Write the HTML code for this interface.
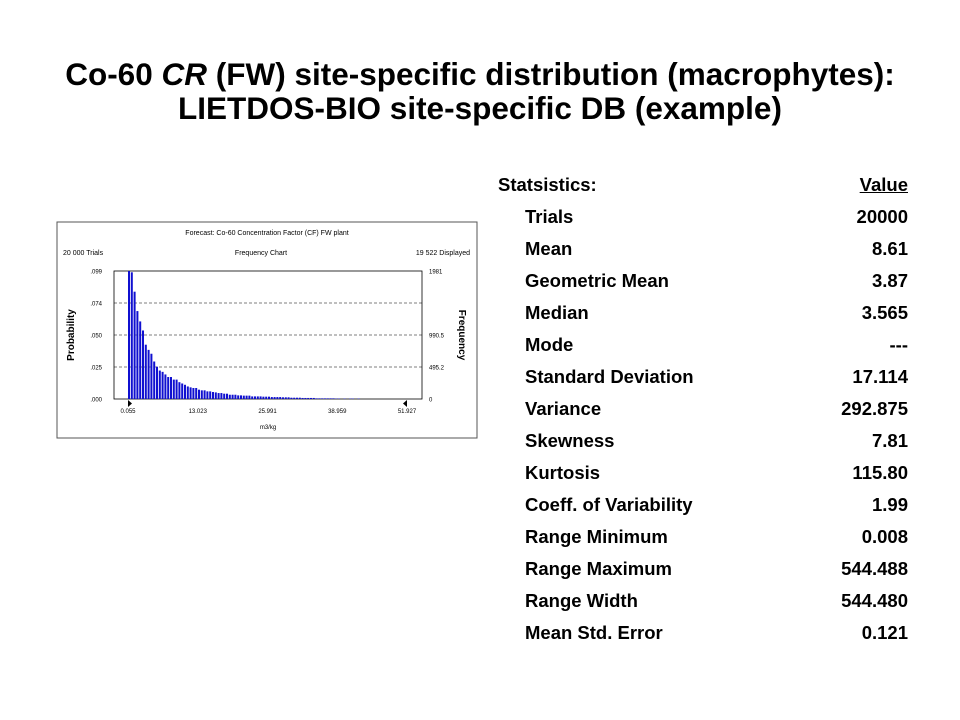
<!DOCTYPE html>
<html><head><meta charset="utf-8"><style>
body{margin:0;background:#fff;width:960px;height:720px;overflow:hidden;position:relative;font-family:"Liberation Sans",Arial,sans-serif}
.title{position:absolute;left:0;width:960px;top:57px;text-align:center;font-weight:bold;font-size:31.5px;line-height:34px;color:#000;white-space:nowrap}
.row{position:absolute;left:498px;width:410px;height:22px;font-weight:bold;font-size:18.5px;color:#000}
.row .l{position:absolute;left:27px;top:0}
.row .v{position:absolute;right:0;top:0}
</style></head><body>
<div class="title">Co-60 <i>CR</i> (FW) site-specific distribution (macrophytes):<br>LIETDOS-BIO site-specific DB (example)</div>
<div id="stats"></div>
<svg id="chart" style="position:absolute;left:0;top:0" width="960" height="720"></svg>
<script>
const statLabels=["Trials","Mean","Geometric Mean","Median","Mode","Standard Deviation","Variance","Skewness","Kurtosis","Coeff. of Variability","Range Minimum","Range Maximum","Range Width","Mean Std. Error"];
const statValues=["20000","8.61","3.87","3.565","---","17.114","292.875","7.81","115.80","1.99","0.008","544.488","544.480","0.121"];
const probs=[.099,.098,.083,.068,.060,.053,.042,.038,.035,.029,.025,.022,.021,.019,.017,.017,.015,.015,.013,.012,.011,.0097,.0090,.0085,.0085,.0072,.0067,.0067,.0059,.0059,.0054,.0051,.0046,.0046,.0041,.0041,.0033,.0033,.0033,.0028,.0028,.0026,.0026,.0026,.0020,.0020,.0020,.0020,.0018,.0018,.0018,.0015,.0015,.0015,.0015,.0013,.0013,.0013,.0010,.0010,.0010,.0010,.0008,.0008,.0008,.0008,.0008,.0005,.0005,.0005,.0005,.0005,.0005,.0005,.0003,.0003,0,.0003,0,.0003,.0003,0,.0003];
const yTicks=[".000",".025",".050",".074",".099"];
const yTickVals=[0,.02475,.0495,.07425,.099];
const freqTicks=["0","495.2","990.5","1981"];
const freqTickVals=[0,.02475,.0495,.099];
const xTicks=["0.055","13.023","25.991","38.959","51.927"];
const xTickVals=[0.055,13.023,25.991,38.959,51.927];

const st=document.getElementById('stats');
function addRow(i,label,val,indent){
  const r=document.createElement('div');r.className='row';r.style.top=(174+32*i)+'px';
  
  
  r.innerHTML='<span class="l" style="left:'+(indent?27:0)+'px">'+label+'</span><span class="v"'+(indent?'':' style="text-decoration:underline"')+'>'+val+'</span>';
  st.appendChild(r);
}
addRow(0,'Statsistics:','Value',false);
statLabels.forEach((l,i)=>addRow(i+1,l,statValues[i],true));

const svg=document.getElementById('chart');const NS='http://www.w3.org/2000/svg';
function el(t,a,txt){const e=document.createElementNS(NS,t);for(const k in a)e.setAttribute(k,a[k]);if(txt!==undefined)e.textContent=txt;svg.appendChild(e);return e;}
const pL=114,pR=422,pT=271,pB=399;
const yS=v=>pB-(v/0.099)*(pB-pT);
const xS=v=>128+(v-0.055)/(51.927-0.055)*(407-128);
let e=el('rect',{x:57,y:222,width:420,height:216,fill:'#fff',stroke:'#555','stroke-width':1});


const f='font-family:"Liberation Sans",Arial,sans-serif;';
el('text',{x:267,y:235,'font-size':7,'text-anchor':'middle',style:f},'Forecast: Co-60 Concentration Factor (CF) FW plant');
el('text',{x:63,y:255,'font-size':7,style:f},'20 000 Trials');
el('text',{x:261,y:255,'font-size':7,'text-anchor':'middle',style:f},'Frequency Chart');
el('text',{x:470,y:255,'font-size':7,'text-anchor':'end',style:f},'19 522 Displayed');
yTickVals.forEach((v,i)=>{
  const y=yS(v);
  el('text',{x:102,y:y+2.5,'font-size':6,'text-anchor':'end',style:f},yTicks[i]);
  if(i>0&&i<4){const g=el('line',{x1:pL,x2:pR,y1:y,y2:y,stroke:'#000','stroke-dasharray':'3,2','stroke-width':0.6});}
});
freqTickVals.forEach((v,i)=>el('text',{x:429,y:yS(v)+2.5,'font-size':6,style:f},freqTicks[i]));
el('rect',{x:pL,y:pT,width:pR-pL,height:pB-pT,fill:'none',stroke:'#000','stroke-width':0.8});
const bw=2.8;
probs.forEach((p,i)=>{
  if(p<=0)return;
  const x=128+i*bw;
  const b=el('rect',{x:x,y:yS(p),width:bw-0.8,height:pB-yS(p),fill:'#1010d0'});
  
  
});
xTickVals.forEach((v,i)=>el('text',{x:xS(v),y:413,'font-size':6,'text-anchor':'middle',style:f},xTicks[i]));
el('polygon',{points:`${xS(0.055)},400 ${xS(0.055)},407 ${xS(0.055)+4},403.5`,fill:'#000'});
el('polygon',{points:`${xS(51.927)},400 ${xS(51.927)},407 ${xS(51.927)-4},403.5`,fill:'#000'});
el('text',{x:268,y:429,'font-size':6,'text-anchor':'middle',style:f},'m3/kg');
el('text',{x:74,y:335,'font-size':10,'font-weight':'bold','text-anchor':'middle',transform:'rotate(-90 74 335)',style:f},'Probability');
el('text',{x:459,y:335,'font-size':10,'font-weight':'bold','text-anchor':'middle',transform:'rotate(90 459 335)',style:f},'Frequency');
</script>
</body></html>
